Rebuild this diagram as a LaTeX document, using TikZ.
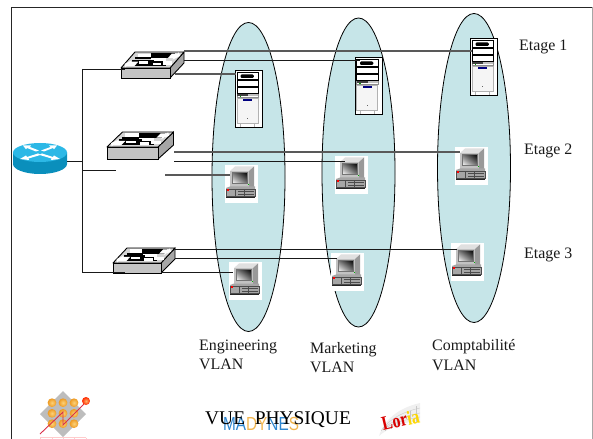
\documentclass[tikz,border=0pt]{standalone}
\usepackage{fontspec}
\usetikzlibrary{shapes.geometric,shadings}
\setmainfont{Liberation Serif}
\newfontfamily\logosans{Liberation Sans}
\definecolor{vlanfill}{HTML}{C6E5E8}
\definecolor{rtop}{HTML}{2CB8E6}
\definecolor{rside}{HTML}{0A8FBC}
\definecolor{swgrey}{HTML}{C4C4C4}
\definecolor{swtop}{HTML}{D4D4D4}
\definecolor{swside}{HTML}{A6A6A6}
\definecolor{madblue}{HTML}{2E86D0}
\definecolor{madorange}{HTML}{F2B650}
\definecolor{balllight}{HTML}{FBD27A}
\definecolor{balldark}{HTML}{EE9A22}
\definecolor{logored}{HTML}{D8304A}
\tikzset{
  vlan/.style={ellipse,draw=black,fill=vlanfill,line width=0.8bp,inner sep=0pt,minimum width=73bp,minimum height=309bp},
  frameline/.style={line width=0.9bp,draw=black!85},
  blink/.style={draw=black!90,line width=0.7bp},
  glink/.style={draw=black!65,line width=1.1bp},
  label/.style={anchor=base west,inner sep=0pt,font=\fontsize{16}{19}\selectfont,align=left,text=black!90},
  srvbox/.style={draw=black,fill=white,line width=0.9bp,anchor=north west,inner sep=0pt,minimum width=27bp,minimum height=57.5bp},
  pcbox/.style={fill=white,anchor=north west,inner sep=0pt,minimum width=33bp,minimum height=38bp},
  swbox/.style={draw=black,fill=swgrey,line width=0.9bp,anchor=north west,inner sep=0pt},
}
\newcommand\servericon[3]{%
  \node[srvbox] (#1) at (#2,#3) {};
  \begin{scope}[shift={(#2,#3)}]
    \draw[black!45,line width=0.5bp] (2,2.5) rectangle (23.5,27);
    \draw[black,fill=white,line width=0.5bp] (2.2,2.7) rectangle (23.3,9.3);
    \fill[black,rounded corners=1.2bp] (5.5,4.4) rectangle (18.8,8);
    \draw[black,fill=white,line width=0.5bp] (2.2,10.3) rectangle (23.3,16.3);
    \draw[black,fill=white,line width=0.5bp] (2.2,17) rectangle (23.3,23);
    \fill[black!75] (2.2,24) rectangle (13,26.5);
    \fill[black!25] (13,24) rectangle (23.3,26.5);
    \fill[green!60!black] (4.5,26) rectangle (6,27);
    \draw[black!30,fill=black!4,line width=0.7bp] (2.2,28.7) rectangle (23.3,53.5);
    \fill[blue!50!black] (8,29) rectangle (17.3,31);
    \fill[black!60] (12,48) rectangle (12.7,48.7);
    \draw[black!30,line width=0.6bp] (5.3,53.5) -- (5.3,57) (19.3,53.5) -- (19.3,57);
  \end{scope}}
\newcommand\pcicon[3]{%
  \node[pcbox] (#1) at (#2,#3) {};
  \begin{scope}[shift={(#2,#3)}]
    \fill[black!12] (5,6) -- (10,1.5) -- (29,1.5) -- (24,6) -- cycle;
    \fill[black!40] (24,6) -- (29,1.5) -- (29,22) -- (24,23) -- cycle;
    \fill[black!24] (5,6) rectangle (24,23);
    \shade[upper right=black,upper left=black!55,lower right=black!55,lower left=white] (7.5,7.5) rectangle (22.5,18.5);
    \draw[black!55,line width=0.4bp] (7.5,7.5) rectangle (22.5,18.5);
    \fill[black!35] (1,23) -- (5,21.5) -- (30,21.5) -- (30,32) -- (1,32) -- cycle;
    \draw[black!70,line width=0.5bp] (1,24.5) rectangle (30,31.5);
    \draw[black!70,line width=0.4bp] (10,24.5) -- (10,31.5) (13,26.5) -- (29,26.5) (13,29) -- (29,29) (19,24.5) -- (19,31.5);
    \draw[black!85,line width=0.9bp] (1,32) -- (30,32);
    \fill[red] (2.4,24.4) rectangle (4,26);
    \fill[green!70!black] (23,18.7) rectangle (24,19.7);
  \end{scope}}
\newcommand\switchicon[7]{%
  \draw[black,fill=swside,line width=0.9bp] (#2+#4,#3) -- (#2+#4+#6,#3-#7) -- (#2+#4+#6,#3-#7+#5+1) -- (#2+#4,#3+#5) -- cycle;
  \node[swbox,minimum width=#4bp,minimum height=#5bp] (#1) at (#2,#3) {};
  \begin{scope}[shift={(#2,#3)},x={(#4bp,0bp)},y={(#6bp,#7bp)}]
    \draw[black,fill=swtop,line width=0.9bp,line join=round] (0,0) -- (1,0) -- (1,1) -- (0,1) -- cycle;
    \fill[black] (.13,.54) rectangle (.50,.68);
    \fill[white] (.16,.66) rectangle (.40,.90);
    \fill[black] (.43,.62) rectangle (.84,.95);
    \fill[white] (.78,.62) -- (.90,.62) -- (.90,.52) -- (.99,.76) -- (.90,.98) -- (.90,.90) -- (.78,.90) -- cycle;
    \fill[white] (.50,.42) rectangle (.74,.62);
    \fill[black] (.19,.14) rectangle (.52,.52);
    \fill[white] (.00,.26) -- (.08,.04) -- (.08,.12) -- (.24,.12) -- (.24,.40) -- (.08,.40) -- (.08,.48) -- cycle;
    \fill[black] (.52,.10) rectangle (.80,.42);
    \fill[white] (.60,.16) rectangle (.74,.30);
    \fill[white] (.80,.18) rectangle (.93,.42);
    \fill[white] (.30,.26) rectangle (.44,.42);
  \end{scope}}
\begin{document}
\begin{tikzpicture}[x=1bp,y=-1bp]
\useasboundingbox (0,0) rectangle (593,439);
% frame
\draw[draw=black!35,line width=0.9bp] (592,7) -- (592,439);
\draw[frameline] (11,439) -- (11,7.5) -- (592,7.5);
% VLAN ellipses
\node[vlan] (eng) at (248.5,177) {};
\node[vlan] (mkt) at (358.5,172.5) {};
\node[vlan] (cpt) at (474,168) {};
% router
\fill[rside] (13,152.5) -- (13,164) arc[start angle=180,end angle=0,x radius=27,y radius=10] -- (67,152.5) -- cycle;
\node[ellipse,fill=rtop,inner sep=0pt,minimum width=54bp,minimum height=19bp] (router) at (40,152.5) {};
\fill[white] (23,145.5) -- (31,145.5) -- (30,147) -- (39,150.5) -- (36,151.5) -- (27,148) -- (26,149.3) -- cycle;
\fill[white] (57,145.5) -- (49,145.5) -- (50.5,147) -- (41,150.5) -- (44,151.5) -- (53,148) -- (54,149.3) -- cycle;
\fill[white] (38,153.5) -- (27,157) -- (26,155.5) -- (20,159) -- (29,160) -- (28.5,158.5) -- (41,154.8) -- cycle;
\fill[white] (42,153.5) -- (53,157) -- (54,155.5) -- (60,159) -- (51,160) -- (51.5,158.5) -- (39,154.8) -- cycle;
% devices
\switchicon{swa}{121}{68}{49}{10}{14}{16}
\switchicon{swb}{107}{147}{51}{12}{15.5}{15}
\switchicon{swc}{113}{263}{48}{10}{14}{15}
\servericon{srva}{235}{70}
\servericon{srvb}{354.5}{57}
\servericon{srvc}{470}{38}
\pcicon{pca}{225}{165}
\pcicon{pcb}{335}{156}
\pcicon{pcc}{455}{147}
\pcicon{pcd}{229}{262}
\pcicon{pce}{331}{253}
\pcicon{pcf}{451}{243}
% connector ends
\coordinate (bus) at (82,161);
\coordinate (bustop) at (82,69);
\coordinate (busmid) at (82,170.5);
\coordinate (busbot) at (82,272);
\coordinate (swbstub) at (116,170.5);
\coordinate (a1) at (184,51); \coordinate (a1e) at (472,51);
\coordinate (a2) at (184,60.5); \coordinate (a2e) at (360,60.5);
\coordinate (a3) at (175,74); \coordinate (a3e) at (236,74);
\coordinate (b1) at (174,152); \coordinate (b1e) at (460,152);
\coordinate (b2) at (174,161); \coordinate (b2e) at (345,161);
\coordinate (b3) at (165,175); \coordinate (b3e) at (230,175);
\coordinate (c1) at (175,249); \coordinate (c1e) at (457,249);
\coordinate (c2) at (175,258); \coordinate (c2e) at (337,258);
\coordinate (c3) at (161,272); \coordinate (c3e) at (233,272);
\coordinate (swain) at (125,69);
\coordinate (swcin) at (125,272);
\coordinate (rout) at (67,161);
% connectors
\draw[blink] (rout) -- (bus);
\draw[blink] (bustop) -- (busbot);
\draw[blink] (bustop) -- (swain);
\draw[blink] (busmid) -- (swbstub);
\draw[blink] (busbot) -- (swcin);
\draw[glink] (a1) -- (a1e);
\draw[blink] (a2) -- (a2e);
\draw[glink] (a3) -- (a3e);
\draw[glink] (b1) -- (b1e);
\draw[blink] (b2) -- (b2e);
\draw[glink] (b3) -- (b3e);
\draw[blink] (c1) -- (c1e);
\draw[blink] (c2) -- (c2e);
\draw[blink] (c3) -- (c3e);
% labels
\node[label] (l1) at (519,51) {Etage 1};
\node[label] (l2) at (524,154.5) {Etage 2};
\node[label] (l3) at (524,258.5) {Etage 3};
\node[label] (v1a) at (199,350) {Engineering};
\node[label] (v1b) at (199,369) {VLAN};
\node[label] (v2a) at (310,353) {Marketing};
\node[label] (v2b) at (310,372.5) {VLAN};
\node[label] (v3a) at (432,350.5) {Comptabilité};
\node[label] (v3b) at (432,370.5) {VLAN};
% left logo
\fill[black!26] (63,391) -- (86,414) -- (63,437) -- (40,414) -- cycle;
\foreach \px in {52,63,74} \foreach \py in {402.7,413.3,423.7}
  \shade[inner color=balllight,outer color=balldark] (\px,\py) circle[radius=4.4bp];
\draw[logored,line width=0.9bp] (40,434) -- (63,412) -- (63,425) -- (84,404);
\shade[inner color=orange!60,outer color=red!70!orange] (86,401) circle[radius=4bp];
\draw[red!20,line width=0.7bp] (40,437.5) -- (86,437.5);
\foreach \px in {40,52,63,74,86} \draw[red!20,line width=0.6bp] (\px,437.5) -- (\px,439);
% Madynes and title
\node[anchor=base west,inner sep=0pt,xscale=0.81,font=\logosans\fontsize{19}{19}\selectfont] (mad) at (223,430.5) {\textcolor{madblue}{M}\textcolor{madblue}{A}\textcolor{madorange}{D}\textcolor{madorange}{Y}\textcolor{madblue}{N}\textcolor{madblue}{E}\textcolor{madorange}{S}};
\node[anchor=base west,inner sep=0pt,font=\fontsize{19.5}{19.5}\selectfont,text=black] (title) at (205,424) {VUE\ \ PHYSIQUE};
% Loria logo
\fill[black!6] (379,436) .. controls (384,420) and (398,408) .. (420,403) -- (420,421) .. controls (402,422) and (388,428) .. cycle;
\foreach \t in {0.15,0.3,0.45,0.6,0.75,0.9}
  \draw[black!22,line width=0.35bp] (379+\t*41,436-\t*33) -- (379+\t*41,432-\t*11);
\draw[black!22,line width=0.35bp] (381,431) .. controls (388,420) and (402,412) .. (420,408);
\draw[black!22,line width=0.35bp] (383,429) .. controls (390,422) and (404,416) .. (420,413);
\draw[black!22,line width=0.35bp] (385,428) .. controls (392,424) and (406,419) .. (420,417);
\node[rotate=13,yscale=1.25,inner sep=0pt,font=\bfseries\fontsize{16}{16}\selectfont] (loria) at (400.5,420) {\textcolor{red!85!black}{Lor}\textcolor{yellow!75!orange}{ia}};
\end{tikzpicture}
\end{document}
